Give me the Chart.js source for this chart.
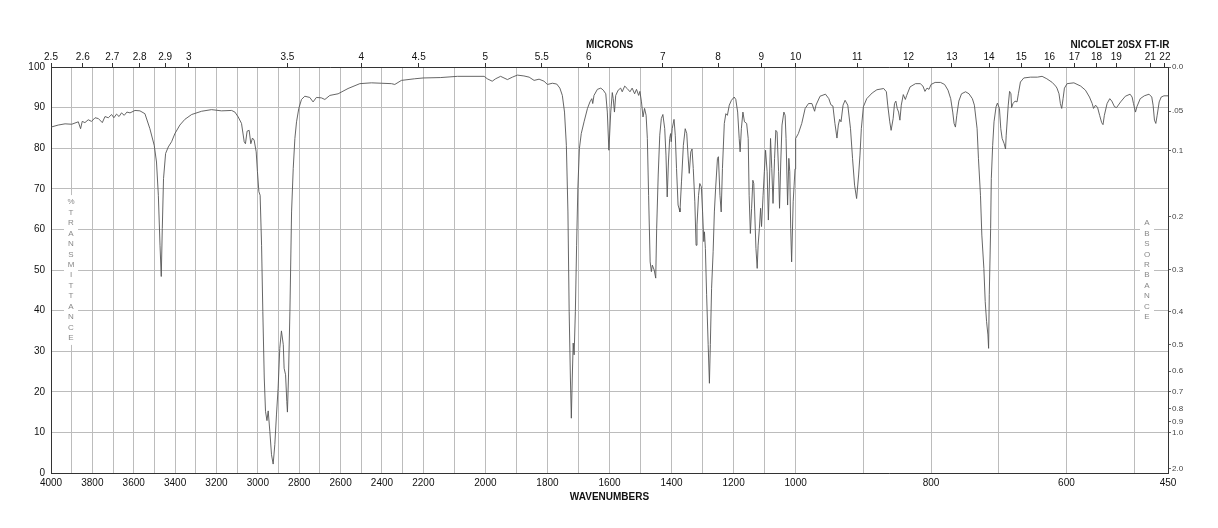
<!DOCTYPE html>
<html><head><meta charset="utf-8">
<script src="https://cdn.jsdelivr.net/npm/chart.js@4.4.1/dist/chart.umd.min.js"></script>
<style>html,body{margin:0;padding:0;background:#fff}canvas{display:block}</style>
</head><body>
<canvas id="c" width="1218" height="528"></canvas>
<script>
// ---- DATA ----
const WAVENUMBERS = [
4000,3965,3932,3900,3868,3857,3849,3836,3820,3804,3787,3771,3752,3739,3723,3707,3696,3683,3671,3659,3646,3633,3618,3594,3570,3546,
3522,3501,3490,3481,3473,3467,3462,3456,3446,3433,3417,3401,3377,3353,3320,3272,3224,3176,3127,3111,3095,3079,3066,3060,3052,3042,
3034,3026,3018,3008,3002,2995,2989,2982,2976,2969,2963,2956,2950,2942,2934,2926,2918,2910,2902,2894,2886,2877,2873,2866,2860,2857,
2852,2845,2837,2829,2821,2813,2802,2789,2773,2749,2733,2717,2693,2676,2652,2612,2564,2507,2451,2403,2354,2338,2306,2242,
2200,2144,2090,2004,1994,1978,1967,1951,1940,1929,1913,1897,1876,1859,1843,1827,1811,1800,1784,1770,1760,1752,1745,1739,1734,1730,
1726,1723,1720,1717,1714,1710,1706,1702,1697,1691,1682,1671,1663,1657,1654,1650,1639,1628,1620,1612,1607,1602,1596,1591,1588,1584,
1580,1572,1564,1559,1551,1543,1534,1527,1519,1513,1506,1502,1497,1492,1487,1482,1478,1474,1469,1465,1462,1456,1451,1448,1443,1438,
1433,1428,1422,1418,1414,1410,1406,1403,1401,1398,1392,1388,1384,1379,1376,1373,1368,1362,1356,1351,1347,1343,1338,1334,1330,1325,
1321,1318,1313,1309,1304,1300,1296,1294,1291,1287,1282,1278,1275,1271,1266,1262,1258,1252,1249,1244,1240,1236,1230,1225,1220,1214,
1207,1198,1193,1187,1182,1179,1175,1170,1165,1158,1153,1150,1146,1142,1138,1135,1132,1128,1124,1121,1117,1113,1110,1105,1101,1097,
1092,1088,1085,1081,1077,1073,1068,1064,1060,1055,1052,1048,1044,1038,1034,1031,1026,1022,1019,1016,1013,1008,1005,1002,1000,
996,991,986,981,976,972,970,964,956,951,948,945,942,939,937,935,933,930,927,923,919,916,913,910,907,905,903,900,895,887,880,870,
866,864,861,859,856,854,852,850,848,846,844,841,838,836,831,823,816,812,809,806,803,800,794,786,780,775,771,768,766,764,762,759,
755,749,744,739,736,732,730,727,725,722,720,718,716,715,714,712,711,709,707,704,702,699,697,695,692,690,689,686,684,682,681,679,
676,673,671,668,663,653,643,636,629,621,616,614,611,609,607,605,603,599,589,579,572,566,562,560,557,554,551,548,546,544,540,536,
533,529,526,520,513,506,503,501,498,496,491,485,478,474,472,470,468,466,463,460,456,450
];
const TRANSMITTANCE = [
85.2,85.7,86.0,85.9,86.5,84.8,86.6,86.3,87.0,86.6,87.5,87.3,86.3,87.8,87.5,88.3,87.5,88.4,87.8,88.7,88.1,88.9,88.7,89.3,89.2,88.5,
84.8,80.7,76.6,68.4,56.1,48.4,60.2,72.5,78.7,80.3,81.6,83.6,85.7,87.1,88.3,89.1,89.5,89.2,89.3,88.9,87.7,86.1,81.6,81.1,84.2,84.4,
81.1,82.5,82.0,79.1,74.2,69.3,68.4,56.1,39.8,23.4,15.2,12.9,15.3,10.2,4.5,2.2,7.0,14.3,20.9,30.7,35.0,31.6,25.8,24.2,17.6,15.0,
23.4,39.8,64.3,75.0,82.4,86.5,89.8,92.0,92.8,92.5,91.4,92.5,92.4,92.0,93.0,93.4,94.7,95.9,96.1,96.0,95.9,95.7,96.7,97.1,
97.3,97.4,97.7,97.7,97.1,96.5,97.1,97.7,97.3,96.9,97.5,98.0,97.8,97.5,96.7,97.0,96.5,95.7,96.0,95.8,94.8,93.0,88.9,80.7,64.3,39.8,
23.4,13.5,23.4,32.0,29.1,39.8,56.1,70.1,79.9,83.6,86.5,89.8,91.4,92.2,91.0,93.0,94.5,94.8,94.3,93.4,88.9,79.5,88.9,93.7,92.2,88.9,
93.0,94.3,94.8,93.9,95.3,94.7,93.9,94.8,93.4,94.5,93.0,94.0,91.4,87.7,89.8,88.1,82.4,68.4,52.0,49.6,51.2,50.0,48.0,60.2,73.4,83.2,
87.3,88.3,84.8,78.3,68.0,76.6,82.4,83.6,81.6,84.8,87.1,83.2,75.0,66.0,65.2,64.3,71.7,80.7,84.8,83.6,78.3,73.8,79.1,79.8,75.0,66.8,
56.1,61.1,68.4,71.3,70.5,64.3,57.0,59.4,55.3,43.9,31.6,22.1,31.6,45.5,54.5,64.3,70.1,77.5,77.9,68.4,64.3,75.0,86.1,88.5,88.1,90.6,
91.8,92.6,92.0,88.9,82.4,79.1,84.8,88.9,86.5,86.1,82.4,68.4,59.0,65.2,72.1,71.3,64.3,55.3,50.4,56.1,60.2,65.2,60.7,68.4,74.2,79.5,
74.2,62.3,70.1,82.4,75.0,66.4,77.5,84.4,84.0,74.2,65.2,76.6,85.7,88.9,88.1,82.4,66.0,77.5,74.2,60.2,52.0,66.8,70.9,74.9,82.4,
83.6,86.1,89.8,91.0,91.0,89.1,90.6,92.8,93.3,92.2,90.7,90.4,86.1,82.5,85.7,87.1,86.5,90.6,91.8,90.6,84.8,77.5,70.9,67.6,73.4,78.3,84.8,90.2,92.2,93.6,94.4,94.7,
93.9,90.6,86.5,84.4,87.3,91.0,91.6,89.8,88.9,86.9,90.6,93.2,92.0,93.0,95.1,95.9,95.9,95.3,94.0,94.8,94.5,95.7,96.2,96.2,95.7,94.3,92.2,88.9,86.1,85.2,88.1,91.6,
93.4,93.9,93.4,92.2,90.6,84.8,77.5,68.4,58.6,50.4,42.2,37.3,34.0,30.7,43.9,60.2,72.5,80.7,86.5,90.2,91.1,89.8,84.8,82.4,81.1,79.8,83.2,90.6,94.0,93.4,90.0,91.0,
91.6,91.4,93.4,96.3,97.3,97.5,97.5,97.7,97.1,96.2,95.3,94.8,93.4,91.0,89.8,92.2,94.8,95.9,96.1,95.3,94.3,92.6,91.0,89.8,90.6,90.0,88.1,86.3,85.8,88.1,91.0,92.2,
91.6,90.2,90.0,91.4,92.8,93.3,92.6,91.0,88.9,90.2,92.2,92.9,93.3,92.6,90.6,86.9,86.1,88.1,91.4,92.6,92.9,92.9
];
const WN_GRID = [4000,3900,3800,3700,3600,3500,3400,3300,3200,3100,3000,2900,2800,2700,2600,2500,2400,2300,2200,2100,2000,
  1900,1800,1700,1600,1500,1400,1300,1200,1100,1000,900,800,700,600,500,450];
const WN_LABELS = [4000,3800,3600,3400,3200,3000,2800,2600,2400,2200,2000,1800,1600,1400,1200,1000,800,600,450];
const MICRONS = [2.5,2.6,2.7,2.8,2.9,3,3.5,4,4.5,5,5.5,6,7,8,9,10,11,12,13,14,15,16,17,18,19,21,22];
const PCT_TICKS = [0,10,20,30,40,50,60,70,80,90,100];
const ABS_TICKS = [0,0.05,0.1,0.2,0.3,0.4,0.5,0.6,0.7,0.8,0.9,1.0,2.0];
const ABS_LABELS = ['0.0','.05','0.1','0.2','0.3','0.4','0.5','0.6','0.7','0.8','0.9','1.0','2.0'];

// ---- piecewise wavenumber scale (chart uses equal thirds: 4000-2200, 2200-1000, 1000-450) ----
const SEGMENTS = [[4000,2200],[2200,1000],[1000,450]];
function wnToDecimal(v){
  const n = SEGMENTS.length;
  for (let i = 0; i < n; i++){
    const a = SEGMENTS[i][0], b = SEGMENTS[i][1];
    if (v >= b || i === n - 1) return (i + (a - v) / (a - b)) / n;
  }
  return 1;
}
class IRScale extends Chart.LinearScale {
  getPixelForValue(value){ return this.getPixelForDecimal(wnToDecimal(value)); }
}
IRScale.id = 'irwn';
IRScale.defaults = Chart.LinearScale.defaults;
Chart.register(IRScale);

const FONT = '"Liberation Sans", Arial, Helvetica, sans-serif';

const textPlugin = {
  id: 'irText',
  afterDraw(chart){
    const ctx = chart.ctx, a = chart.chartArea;
    const cx = (a.left + a.right) / 2;
    ctx.save();
    ctx.fillStyle = '#111';
    ctx.textAlign = 'center';
    ctx.textBaseline = 'middle';
    ctx.font = 'bold 10px ' + FONT;
    ctx.fillText('MICRONS', cx, 45);
    ctx.fillText('WAVENUMBERS', cx, 497);
    ctx.fillText('NICOLET 20SX FT-IR', 1120, 45);
    const yMid = chart.scales.y.getPixelForValue(50);
    const step = 10.45;
    function column(text, x){
      const chars = Array.from(text);
      const h = (chars.length - 1) * step;
      const y0 = yMid - h / 2;
      ctx.fillStyle = '#fff';
      ctx.fillRect(x - 7, y0 - 7, 14, h + 14);
      ctx.fillStyle = '#888';
      ctx.font = '8px ' + FONT;
      chars.forEach((ch, i) => ctx.fillText(ch, x, y0 + i * step));
    }
    column('%TRANSMITTANCE', a.left + 20);
    column('ABSORBANCE', a.right - 21);
    ctx.restore();
  }
};

new Chart(document.getElementById('c'), {
  type: 'line',
  data: {
    datasets: [{
      data: WAVENUMBERS.map((w, i) => ({x: w, y: TRANSMITTANCE[i]})),
      borderColor: '#555',
      borderWidth: 0.9,
      pointRadius: 0,
      tension: 0,
      fill: false,
      xAxisID: 'x',
      yAxisID: 'y'
    }]
  },
  options: {
    responsive: false,
    animation: false,
    events: [],
    layout: { padding: 0 },
    plugins: { legend: {display: false}, tooltip: {enabled: false} },
    scales: {
      x: {
        type: 'irwn', position: 'bottom', min: 450, max: 4000,
        afterBuildTicks: s => { s.ticks = WN_GRID.map(v => ({value: v})); },
        afterFit: s => { s.height = 55; },
        ticks: {
          autoSkip: false, maxRotation: 0, minRotation: 0, padding: 4,
          color: '#111', font: {family: FONT, size: 10},
          callback: v => WN_LABELS.includes(v) ? String(v) : ''
        },
        grid: { color: '#bcbcbc', lineWidth: 1, drawTicks: false },
        border: { display: true, color: '#333', width: 1 }
      },
      xTop: {
        type: 'irwn', position: 'top', min: 450, max: 4000,
        afterBuildTicks: s => { s.ticks = MICRONS.map(m => ({value: 10000 / m})); },
        afterFit: s => { s.height = 67; },
        ticks: {
          autoSkip: false, maxRotation: 0, minRotation: 0, padding: 0,
          color: '#111', font: {family: FONT, size: 10},
          callback: (v, i) => String(MICRONS[i])
        },
        grid: { drawOnChartArea: false, drawTicks: true, tickLength: 4, color: '#333' },
        border: { display: true, color: '#333', width: 1 }
      },
      y: {
        type: 'linear', position: 'left', min: 0, max: 100,
        afterBuildTicks: s => { s.ticks = PCT_TICKS.map(v => ({value: v})); },
        afterFit: s => { s.width = 51; },
        ticks: { autoSkip: false, padding: 6, color: '#111', font: {family: FONT, size: 10} },
        grid: { color: '#bcbcbc', lineWidth: 1, drawTicks: false },
        border: { display: true, color: '#333', width: 1 }
      },
      y2: {
        type: 'linear', position: 'right', min: 0, max: 100,
        afterBuildTicks: s => { s.ticks = ABS_TICKS.map(a => ({value: 100 * Math.pow(10, -a)})); },
        afterFit: s => { s.width = 50; },
        ticks: {
          autoSkip: false, padding: 1, color: '#444', font: {family: FONT, size: 8},
          callback: (v, i) => ABS_LABELS[i]
        },
        grid: { drawOnChartArea: false, drawTicks: true, tickLength: 3, color: '#666' },
        border: { display: true, color: '#333', width: 1 }
      }
    }
  },
  plugins: [textPlugin]
});
</script>
</body></html>
